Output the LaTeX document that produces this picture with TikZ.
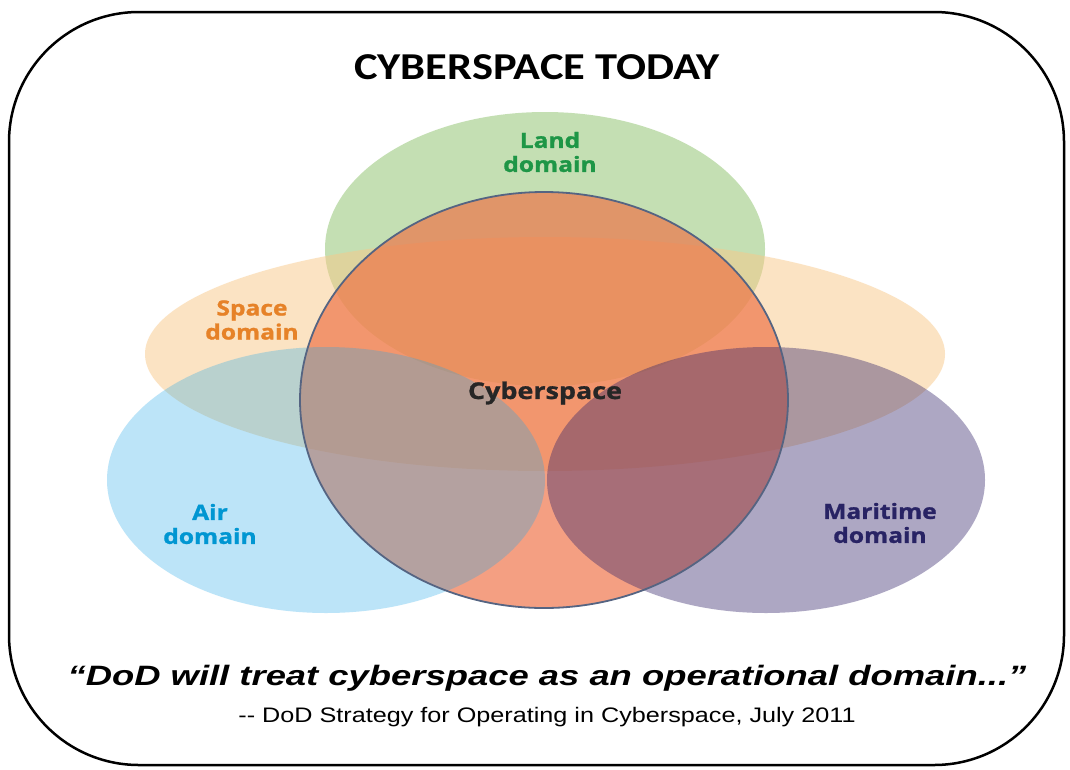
\documentclass[tikz,border=0pt]{standalone}
\usepackage{fontspec}
\setmainfont{Carlito}
\newfontfamily\titlefont[FakeStretch=1.17]{Carlito}
\newfontfamily\labelfont[FakeStretch=1.17, BoldFeatures={FakeBold=1.2}]{Open Sans}
\newfontfamily\quotefont[FakeStretch=1.3]{Liberation Sans}
\newfontfamily\srcfont[FakeStretch=1.2]{Liberation Sans}
\usetikzlibrary{positioning}
\definecolor{landfill}{RGB}{139,193,105}
\definecolor{spacefill}{RGB}{249,201,137}
\definecolor{cyberfill}{RGB}{239,113,69}
\definecolor{airfill}{RGB}{35,168,232}
\definecolor{marfill}{RGB}{52,37,107}
\definecolor{cyberline}{RGB}{85,100,130}
\definecolor{landtext}{RGB}{30,150,70}
\definecolor{spacetext}{RGB}{230,130,40}
\definecolor{airtext}{RGB}{0,150,210}
\definecolor{martext}{RGB}{40,35,100}
\tikzset{
  domlabel/.style={align=center, inner sep=0pt,
    font=\labelfont\bfseries\fontsize{21}{24}\selectfont},
}

\begin{document}
\begin{tikzpicture}[x=1pt,y=-1pt]
\useasboundingbox (0,0) rectangle (1070,769);
\fill[white] (0,0) rectangle (1070,769);
\draw[line width=2.5pt, rounded corners=130pt] (9,12) rectangle (1064,765);

% domains
\fill[landfill, fill opacity=0.5] (545,249) ellipse [x radius=220, y radius=137];
\fill[spacefill, fill opacity=0.5] (545,354) ellipse [x radius=400, y radius=117];
\fill[cyberfill, fill opacity=0.67] (544,400) ellipse [x radius=244, y radius=208];
\fill[airfill, fill opacity=0.3] (326,480) ellipse [x radius=219, y radius=133];
\fill[marfill, fill opacity=0.4] (766,480) ellipse [x radius=219, y radius=133];
\draw[cyberline, line width=1.8pt] (544,400) ellipse [x radius=244, y radius=208];

\node[font=\titlefont\bfseries\fontsize{38}{42}\selectfont] (title) at (537,67) {CYBERSPACE TODAY};

\node[domlabel, text=landtext] (land) at (550,152) {Land\\domain};
\node[domlabel, text=spacetext] (space) at (252,320) {Space\\domain};
\node[domlabel, text=airtext] (air) at (210,524) {Air\\domain};
\node[domlabel, text=martext] (mar) at (880,523) {Maritime\\domain};
\node[domlabel, text=black!85, font=\labelfont\bfseries\fontsize{23}{26}\selectfont] (cyber) at (545,393) {Cyberspace};

\node[font=\quotefont\bfseries\itshape\fontsize{28}{32}\selectfont] (quote) at (547,678)
  {“DoD will treat cyberspace as an operational domain...”};
\node[font=\srcfont\fontsize{21}{24}\selectfont, below=9pt of quote.south, anchor=north] (src)
  {-{}- DoD Strategy for Operating in Cyberspace, July 2011};
\end{tikzpicture}
\end{document}
